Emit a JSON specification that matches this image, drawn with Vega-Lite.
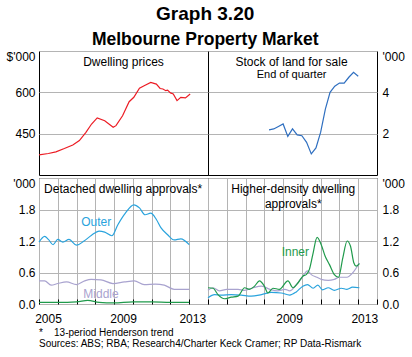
{
  "$schema": "https://vega.github.io/schema/vega-lite/v6.json",
  "padding": {"left": 5, "top": 5, "right": 5, "bottom": 5},
  "background": "white",
  "config": {
    "font": "Liberation Sans",
    "view": {"stroke": "black", "strokeWidth": 1},
    "axis": {"labelFont": "Liberation Sans", "labelFontSize": 12, "labelColor": "#000", "domain": false, "ticks": false, "gridColor": "#b4b4b4", "gridWidth": 1, "title": null, "labelOverlap": false, "labelFlush": false, "labelBound": false, "tickCount": 20},
    "text": {"font": "Liberation Sans"}
  },
  "title": {"text": "Graph 3.20", "subtitle": "Melbourne Property Market", "fontSize": 19, "subtitleFontSize": 17.5, "subtitleFontWeight": "bold", "fontWeight": "bold", "anchor": "middle", "color": "#000", "subtitleColor": "#000", "subtitlePadding": 7, "offset": 1, "font": "Liberation Sans", "subtitleFont": "Liberation Sans"},
  "datasets": {
    "prices": [
      {"date": 2005.0, "value": 373}, {"date": 2005.5, "value": 378}, {"date": 2005.9, "value": 384}, {"date": 2006.35, "value": 396}, {"date": 2006.8, "value": 409}, {"date": 2007.15, "value": 425}, {"date": 2007.5, "value": 455}, {"date": 2007.8, "value": 485}, {"date": 2008.1, "value": 507}, {"date": 2008.5, "value": 497}, {"date": 2008.95, "value": 473}, {"date": 2009.1, "value": 479}, {"date": 2009.45, "value": 515}, {"date": 2009.8, "value": 566}, {"date": 2010.05, "value": 582}, {"date": 2010.35, "value": 615}, {"date": 2010.6, "value": 624}, {"date": 2010.95, "value": 636}, {"date": 2011.25, "value": 630}, {"date": 2011.45, "value": 614}, {"date": 2011.6, "value": 612}, {"date": 2011.75, "value": 606}, {"date": 2011.85, "value": 608}, {"date": 2012.0, "value": 598}, {"date": 2012.15, "value": 594}, {"date": 2012.35, "value": 570}, {"date": 2012.55, "value": 582}, {"date": 2012.8, "value": 580}, {"date": 2013.05, "value": 594}
    ],
    "land": [
      {"date": 2008.25, "value": 2.18}, {"date": 2008.5, "value": 2.23}, {"date": 2008.75, "value": 2.35}, {"date": 2009.0, "value": 2.47}, {"date": 2009.25, "value": 1.87}, {"date": 2009.5, "value": 2.23}, {"date": 2009.75, "value": 1.94}, {"date": 2010.0, "value": 1.9}, {"date": 2010.25, "value": 1.58}, {"date": 2010.5, "value": 1.02}, {"date": 2010.75, "value": 1.31}, {"date": 2011.0, "value": 2.07}, {"date": 2011.25, "value": 3.19}, {"date": 2011.5, "value": 4.0}, {"date": 2011.75, "value": 4.3}, {"date": 2012.0, "value": 4.45}, {"date": 2012.25, "value": 4.45}, {"date": 2012.5, "value": 4.73}, {"date": 2012.75, "value": 4.97}, {"date": 2013.0, "value": 4.78}
    ],
    "detached": [
      {"series": "Outer", "date": 2005.0, "value": 1.18}, {"series": "Outer", "date": 2005.3, "value": 1.29}, {"series": "Outer", "date": 2005.5, "value": 1.23}, {"series": "Outer", "date": 2005.75, "value": 1.13}, {"series": "Outer", "date": 2006.0, "value": 1.23}, {"series": "Outer", "date": 2006.27, "value": 1.18}, {"series": "Outer", "date": 2006.6, "value": 1.23}, {"series": "Outer", "date": 2007.0, "value": 1.12}, {"series": "Outer", "date": 2007.4, "value": 1.2}, {"series": "Outer", "date": 2007.8, "value": 1.31}, {"series": "Outer", "date": 2008.2, "value": 1.39}, {"series": "Outer", "date": 2008.5, "value": 1.37}, {"series": "Outer", "date": 2008.88, "value": 1.3}, {"series": "Outer", "date": 2009.2, "value": 1.51}, {"series": "Outer", "date": 2009.6, "value": 1.73}, {"series": "Outer", "date": 2010.05, "value": 1.89}, {"series": "Outer", "date": 2010.35, "value": 1.83}, {"series": "Outer", "date": 2010.65, "value": 1.7}, {"series": "Outer", "date": 2010.95, "value": 1.73}, {"series": "Outer", "date": 2011.25, "value": 1.61}, {"series": "Outer", "date": 2011.5, "value": 1.45}, {"series": "Outer", "date": 2011.85, "value": 1.32}, {"series": "Outer", "date": 2012.2, "value": 1.22}, {"series": "Outer", "date": 2012.55, "value": 1.24}, {"series": "Outer", "date": 2013.0, "value": 1.13},
      {"series": "Middle", "date": 2005.0, "value": 0.44}, {"series": "Middle", "date": 2005.3, "value": 0.44}, {"series": "Middle", "date": 2005.65, "value": 0.36}, {"series": "Middle", "date": 2006.0, "value": 0.39}, {"series": "Middle", "date": 2006.47, "value": 0.42}, {"series": "Middle", "date": 2007.0, "value": 0.37}, {"series": "Middle", "date": 2007.43, "value": 0.44}, {"series": "Middle", "date": 2007.78, "value": 0.47}, {"series": "Middle", "date": 2008.3, "value": 0.46}, {"series": "Middle", "date": 2008.94, "value": 0.39}, {"series": "Middle", "date": 2009.55, "value": 0.42}, {"series": "Middle", "date": 2010.08, "value": 0.44}, {"series": "Middle", "date": 2010.6, "value": 0.37}, {"series": "Middle", "date": 2011.2, "value": 0.38}, {"series": "Middle", "date": 2011.67, "value": 0.36}, {"series": "Middle", "date": 2012.2, "value": 0.28}, {"series": "Middle", "date": 2013.0, "value": 0.28},
      {"series": "Inner", "date": 2005.0, "value": 0.03}, {"series": "Inner", "date": 2006.0, "value": 0.03}, {"series": "Inner", "date": 2007.0, "value": 0.04}, {"series": "Inner", "date": 2007.6, "value": 0.07}, {"series": "Inner", "date": 2008.2, "value": 0.03}, {"series": "Inner", "date": 2009.0, "value": 0.02}, {"series": "Inner", "date": 2010.0, "value": 0.04}, {"series": "Inner", "date": 2011.0, "value": 0.04}, {"series": "Inner", "date": 2012.0, "value": 0.03}, {"series": "Inner", "date": 2013.0, "value": 0.03}
    ],
    "density": [
      {"series": "Middle", "date": 2005.0, "value": 0.26}, {"series": "Middle", "date": 2005.27, "value": 0.31}, {"series": "Middle", "date": 2005.6, "value": 0.25}, {"series": "Middle", "date": 2006.0, "value": 0.28}, {"series": "Middle", "date": 2006.6, "value": 0.28}, {"series": "Middle", "date": 2006.95, "value": 0.26}, {"series": "Middle", "date": 2007.4, "value": 0.31}, {"series": "Middle", "date": 2007.85, "value": 0.34}, {"series": "Middle", "date": 2008.3, "value": 0.28}, {"series": "Middle", "date": 2008.7, "value": 0.25}, {"series": "Middle", "date": 2009.1, "value": 0.28}, {"series": "Middle", "date": 2009.35, "value": 0.25}, {"series": "Middle", "date": 2009.7, "value": 0.37}, {"series": "Middle", "date": 2010.0, "value": 0.5}, {"series": "Middle", "date": 2010.3, "value": 0.63}, {"series": "Middle", "date": 2010.5, "value": 0.56}, {"series": "Middle", "date": 2010.8, "value": 0.51}, {"series": "Middle", "date": 2011.03, "value": 0.47}, {"series": "Middle", "date": 2011.4, "value": 0.45}, {"series": "Middle", "date": 2011.73, "value": 0.47}, {"series": "Middle", "date": 2012.0, "value": 0.51}, {"series": "Middle", "date": 2012.4, "value": 0.51}, {"series": "Middle", "date": 2012.7, "value": 0.59}, {"series": "Middle", "date": 2013.06, "value": 0.78},
      {"series": "Outer", "date": 2005.0, "value": 0.12}, {"series": "Outer", "date": 2005.35, "value": 0.18}, {"series": "Outer", "date": 2005.7, "value": 0.17}, {"series": "Outer", "date": 2006.24, "value": 0.18}, {"series": "Outer", "date": 2006.77, "value": 0.17}, {"series": "Outer", "date": 2007.3, "value": 0.15}, {"series": "Outer", "date": 2007.85, "value": 0.18}, {"series": "Outer", "date": 2008.37, "value": 0.22}, {"series": "Outer", "date": 2008.9, "value": 0.21}, {"series": "Outer", "date": 2009.35, "value": 0.17}, {"series": "Outer", "date": 2009.7, "value": 0.23}, {"series": "Outer", "date": 2010.05, "value": 0.34}, {"series": "Outer", "date": 2010.3, "value": 0.37}, {"series": "Outer", "date": 2010.6, "value": 0.3}, {"series": "Outer", "date": 2010.85, "value": 0.36}, {"series": "Outer", "date": 2011.1, "value": 0.27}, {"series": "Outer", "date": 2011.4, "value": 0.31}, {"series": "Outer", "date": 2011.73, "value": 0.26}, {"series": "Outer", "date": 2012.1, "value": 0.3}, {"series": "Outer", "date": 2012.4, "value": 0.28}, {"series": "Outer", "date": 2012.7, "value": 0.32}, {"series": "Outer", "date": 2013.06, "value": 0.31},
      {"series": "Inner", "date": 2005.0, "value": 0.31}, {"series": "Inner", "date": 2005.27, "value": 0.3}, {"series": "Inner", "date": 2005.53, "value": 0.18}, {"series": "Inner", "date": 2005.88, "value": 0.1}, {"series": "Inner", "date": 2006.24, "value": 0.13}, {"series": "Inner", "date": 2006.6, "value": 0.15}, {"series": "Inner", "date": 2006.95, "value": 0.31}, {"series": "Inner", "date": 2007.2, "value": 0.28}, {"series": "Inner", "date": 2007.48, "value": 0.34}, {"series": "Inner", "date": 2007.74, "value": 0.44}, {"series": "Inner", "date": 2008.0, "value": 0.34}, {"series": "Inner", "date": 2008.19, "value": 0.21}, {"series": "Inner", "date": 2008.46, "value": 0.3}, {"series": "Inner", "date": 2008.8, "value": 0.28}, {"series": "Inner", "date": 2009.26, "value": 0.44}, {"series": "Inner", "date": 2009.52, "value": 0.31}, {"series": "Inner", "date": 2009.79, "value": 0.4}, {"series": "Inner", "date": 2010.05, "value": 0.53}, {"series": "Inner", "date": 2010.23, "value": 0.56}, {"series": "Inner", "date": 2010.4, "value": 0.66}, {"series": "Inner", "date": 2010.58, "value": 0.94}, {"series": "Inner", "date": 2010.81, "value": 1.27}, {"series": "Inner", "date": 2011.03, "value": 1.13}, {"series": "Inner", "date": 2011.24, "value": 0.91}, {"series": "Inner", "date": 2011.47, "value": 0.75}, {"series": "Inner", "date": 2011.73, "value": 0.56}, {"series": "Inner", "date": 2011.95, "value": 0.51}, {"series": "Inner", "date": 2012.18, "value": 0.88}, {"series": "Inner", "date": 2012.41, "value": 1.2}, {"series": "Inner", "date": 2012.59, "value": 1.1}, {"series": "Inner", "date": 2012.77, "value": 0.78}, {"series": "Inner", "date": 2012.89, "value": 0.72}, {"series": "Inner", "date": 2013.06, "value": 0.77}
    ]
  },
  "vconcat": [
    {
      "spacing": 0,
      "bounds": "flush",
      "hconcat": [
        {
          "width": 169, "height": 124,
          "layer": [
            {
              "data": {"name": "prices"},
              "mark": {"type": "line", "color": "#ec1c24", "strokeWidth": 1.2},
              "encoding": {
                "x": {"field": "date", "type": "quantitative", "scale": {"domain": [2005, 2014], "nice": false, "zero": false}, "axis": null},
                "y": {"field": "value", "type": "quantitative", "scale": {"domain": [300, 750], "nice": false, "zero": false},
                  "axis": {"orient": "left", "values": [450, 600, 750], "grid": true, "labelPadding": 4,
                    "labelExpr": "datum.value == 750 ? \"$'000\" : format(datum.value, 'd')",
                    "labelBaseline": {"condition": {"test": "datum.value == 750", "value": "top"}, "value": "middle"}}}
              }
            },
            {
              "data": {"values": [{}]},
              "mark": {"type": "text", "fontSize": 12, "baseline": "middle", "color": "#000"},
              "encoding": {
                "x": {"datum": 2009.5, "type": "quantitative"},
                "y": {"datum": 711, "type": "quantitative"},
                "text": {"value": "Dwelling prices"}
              }
            }
          ]
        },
        {
          "width": 169, "height": 124,
          "layer": [
            {
              "data": {"name": "land"},
              "mark": {"type": "line", "color": "#2f6fc0", "strokeWidth": 1.2},
              "encoding": {
                "x": {"field": "date", "type": "quantitative", "scale": {"domain": [2005, 2014], "nice": false, "zero": false}, "axis": null},
                "y": {"field": "value", "type": "quantitative", "scale": {"domain": [0, 6], "nice": false},
                  "axis": {"orient": "right", "values": [2, 4, 6], "grid": true, "labelPadding": 5,
                    "labelExpr": "datum.value == 6 ? \"'000\" : format(datum.value, 'd')",
                    "labelBaseline": {"condition": {"test": "datum.value == 6", "value": "top"}, "value": "middle"}}}
              }
            },
            {
              "data": {"values": [{}]},
              "mark": {"type": "text", "fontSize": 12, "baseline": "middle", "color": "#000"},
              "encoding": {
                "x": {"datum": 2009.45, "type": "quantitative"},
                "y": {"datum": 5.48, "type": "quantitative"},
                "text": {"value": "Stock of land for sale"}
              }
            },
            {
              "data": {"values": [{}]},
              "mark": {"type": "text", "fontSize": 11, "baseline": "middle", "color": "#000"},
              "encoding": {
                "x": {"datum": 2009.45, "type": "quantitative"},
                "y": {"datum": 4.84, "type": "quantitative"},
                "text": {"value": "End of quarter"}
              }
            }
          ]
        }
      ]
    },
    {
      "spacing": 0,
      "bounds": "flush",
      "title": {
        "text": ["*\u00a0\u00a0\u00a0\u00a013-period Henderson trend", "\u00a0Sources: ABS; RBA; Research4/Charter Keck Cramer; RP Data-Rismark"],
        "orient": "bottom", "anchor": "start", "frame": "group", "fontSize": 10, "fontWeight": "normal", "color": "#000", "lineHeight": 11, "offset": 3, "font": "Liberation Sans"
      },
      "hconcat": [
        {
          "width": 169, "height": 126,
          "layer": [
            {
              "data": {"name": "detached"},
              "mark": {"type": "line", "strokeWidth": 1.2, "interpolate": "monotone"},
              "encoding": {
                "x": {"field": "date", "type": "quantitative", "scale": {"domain": [2005, 2014], "nice": false, "zero": false},
                  "axis": {"orient": "bottom", "values": [2005, 2006, 2007, 2008, 2009, 2010, 2011, 2012, 2013, 2014], "format": "d", "ticks": true, "tickSize": -5, "tickColor": "#000", "labelPadding": 14,
                    "labelExpr": "datum.value == 2005 || datum.value == 2009 || datum.value == 2013 ? datum.label : ''",
                    "labelOffset": {"condition": {"test": "datum.value == 2013", "value": 3}, "value": 9}}},
                "y": {"field": "value", "type": "quantitative", "scale": {"domain": [0, 2.4], "nice": false},
                  "axis": {"orient": "left", "values": [0, 0.6, 1.2, 1.8, 2.4], "grid": true, "labelPadding": 4,
                    "labelExpr": "datum.value == 2.4 ? \"'000\" : format(datum.value, '.1f')",
                    "labelBaseline": {"condition": {"test": "datum.value == 2.4", "value": "top"}, "value": "middle"}}},
                "color": {"field": "series", "type": "nominal", "legend": null, "scale": {"domain": ["Outer", "Middle", "Inner"], "range": ["#29a3dd", "#a9a3cf", "#1f9a4b"]}}
              }
            },
            {
              "data": {"values": [{}]},
              "mark": {"type": "text", "fontSize": 12, "baseline": "middle", "color": "#000"},
              "encoding": {
                "x": {"datum": 2009.48, "type": "quantitative"},
                "y": {"datum": 2.185, "type": "quantitative"},
                "text": {"value": "Detached dwelling approvals*"}
              }
            },
            {
              "data": {"values": [{}]},
              "mark": {"type": "text", "fontSize": 12, "baseline": "middle", "color": "#29a3dd"},
              "encoding": {
                "x": {"datum": 2008.05, "type": "quantitative"},
                "y": {"datum": 1.56, "type": "quantitative"},
                "text": {"value": "Outer"}
              }
            },
            {
              "data": {"values": [{}]},
              "mark": {"type": "text", "fontSize": 12, "baseline": "middle", "color": "#a9a3cf"},
              "encoding": {
                "x": {"datum": 2008.3, "type": "quantitative"},
                "y": {"datum": 0.196, "type": "quantitative"},
                "text": {"value": "Middle"}
              }
            }
          ]
        },
        {
          "width": 169, "height": 126,
          "layer": [
            {
              "data": {"name": "density"},
              "mark": {"type": "line", "strokeWidth": 1.2, "interpolate": "monotone"},
              "encoding": {
                "x": {"field": "date", "type": "quantitative", "scale": {"domain": [2005, 2014], "nice": false, "zero": false},
                  "axis": {"orient": "bottom", "values": [2005, 2006, 2007, 2008, 2009, 2010, 2011, 2012, 2013, 2014], "format": "d", "ticks": true, "tickSize": -5, "tickColor": "#000", "labelPadding": 14,
                    "labelExpr": "datum.value == 2009 || datum.value == 2013 ? datum.label : ''",
                    "labelOffset": 6}},
                "y": {"field": "value", "type": "quantitative", "scale": {"domain": [0, 2.4], "nice": false},
                  "axis": {"orient": "right", "values": [0, 0.6, 1.2, 1.8, 2.4], "grid": true, "labelPadding": 5,
                    "labelExpr": "datum.value == 2.4 ? \"'000\" : format(datum.value, '.1f')",
                    "labelBaseline": {"condition": {"test": "datum.value == 2.4", "value": "top"}, "value": "middle"}}},
                "color": {"field": "series", "type": "nominal", "legend": null, "scale": {"domain": ["Outer", "Middle", "Inner"], "range": ["#29a3dd", "#a9a3cf", "#1f9a4b"]}}
              }
            },
            {
              "data": {"values": [{}]},
              "mark": {"type": "text", "fontSize": 12, "baseline": "middle", "color": "#000"},
              "encoding": {
                "x": {"datum": 2009.54, "type": "quantitative"},
                "y": {"datum": 2.185, "type": "quantitative"},
                "text": {"value": "Higher-density dwelling"}
              }
            },
            {
              "data": {"values": [{}]},
              "mark": {"type": "text", "fontSize": 12, "baseline": "middle", "color": "#000"},
              "encoding": {
                "x": {"datum": 2009.54, "type": "quantitative"},
                "y": {"datum": 1.9, "type": "quantitative"},
                "text": {"value": "approvals*"}
              }
            },
            {
              "data": {"values": [{}]},
              "mark": {"type": "text", "fontSize": 12, "baseline": "middle", "color": "#1f9a4b"},
              "encoding": {
                "x": {"datum": 2009.65, "type": "quantitative"},
                "y": {"datum": 1.0, "type": "quantitative"},
                "text": {"value": "Inner"}
              }
            }
          ]
        }
      ]
    }
  ],
  "spacing": 0
}
